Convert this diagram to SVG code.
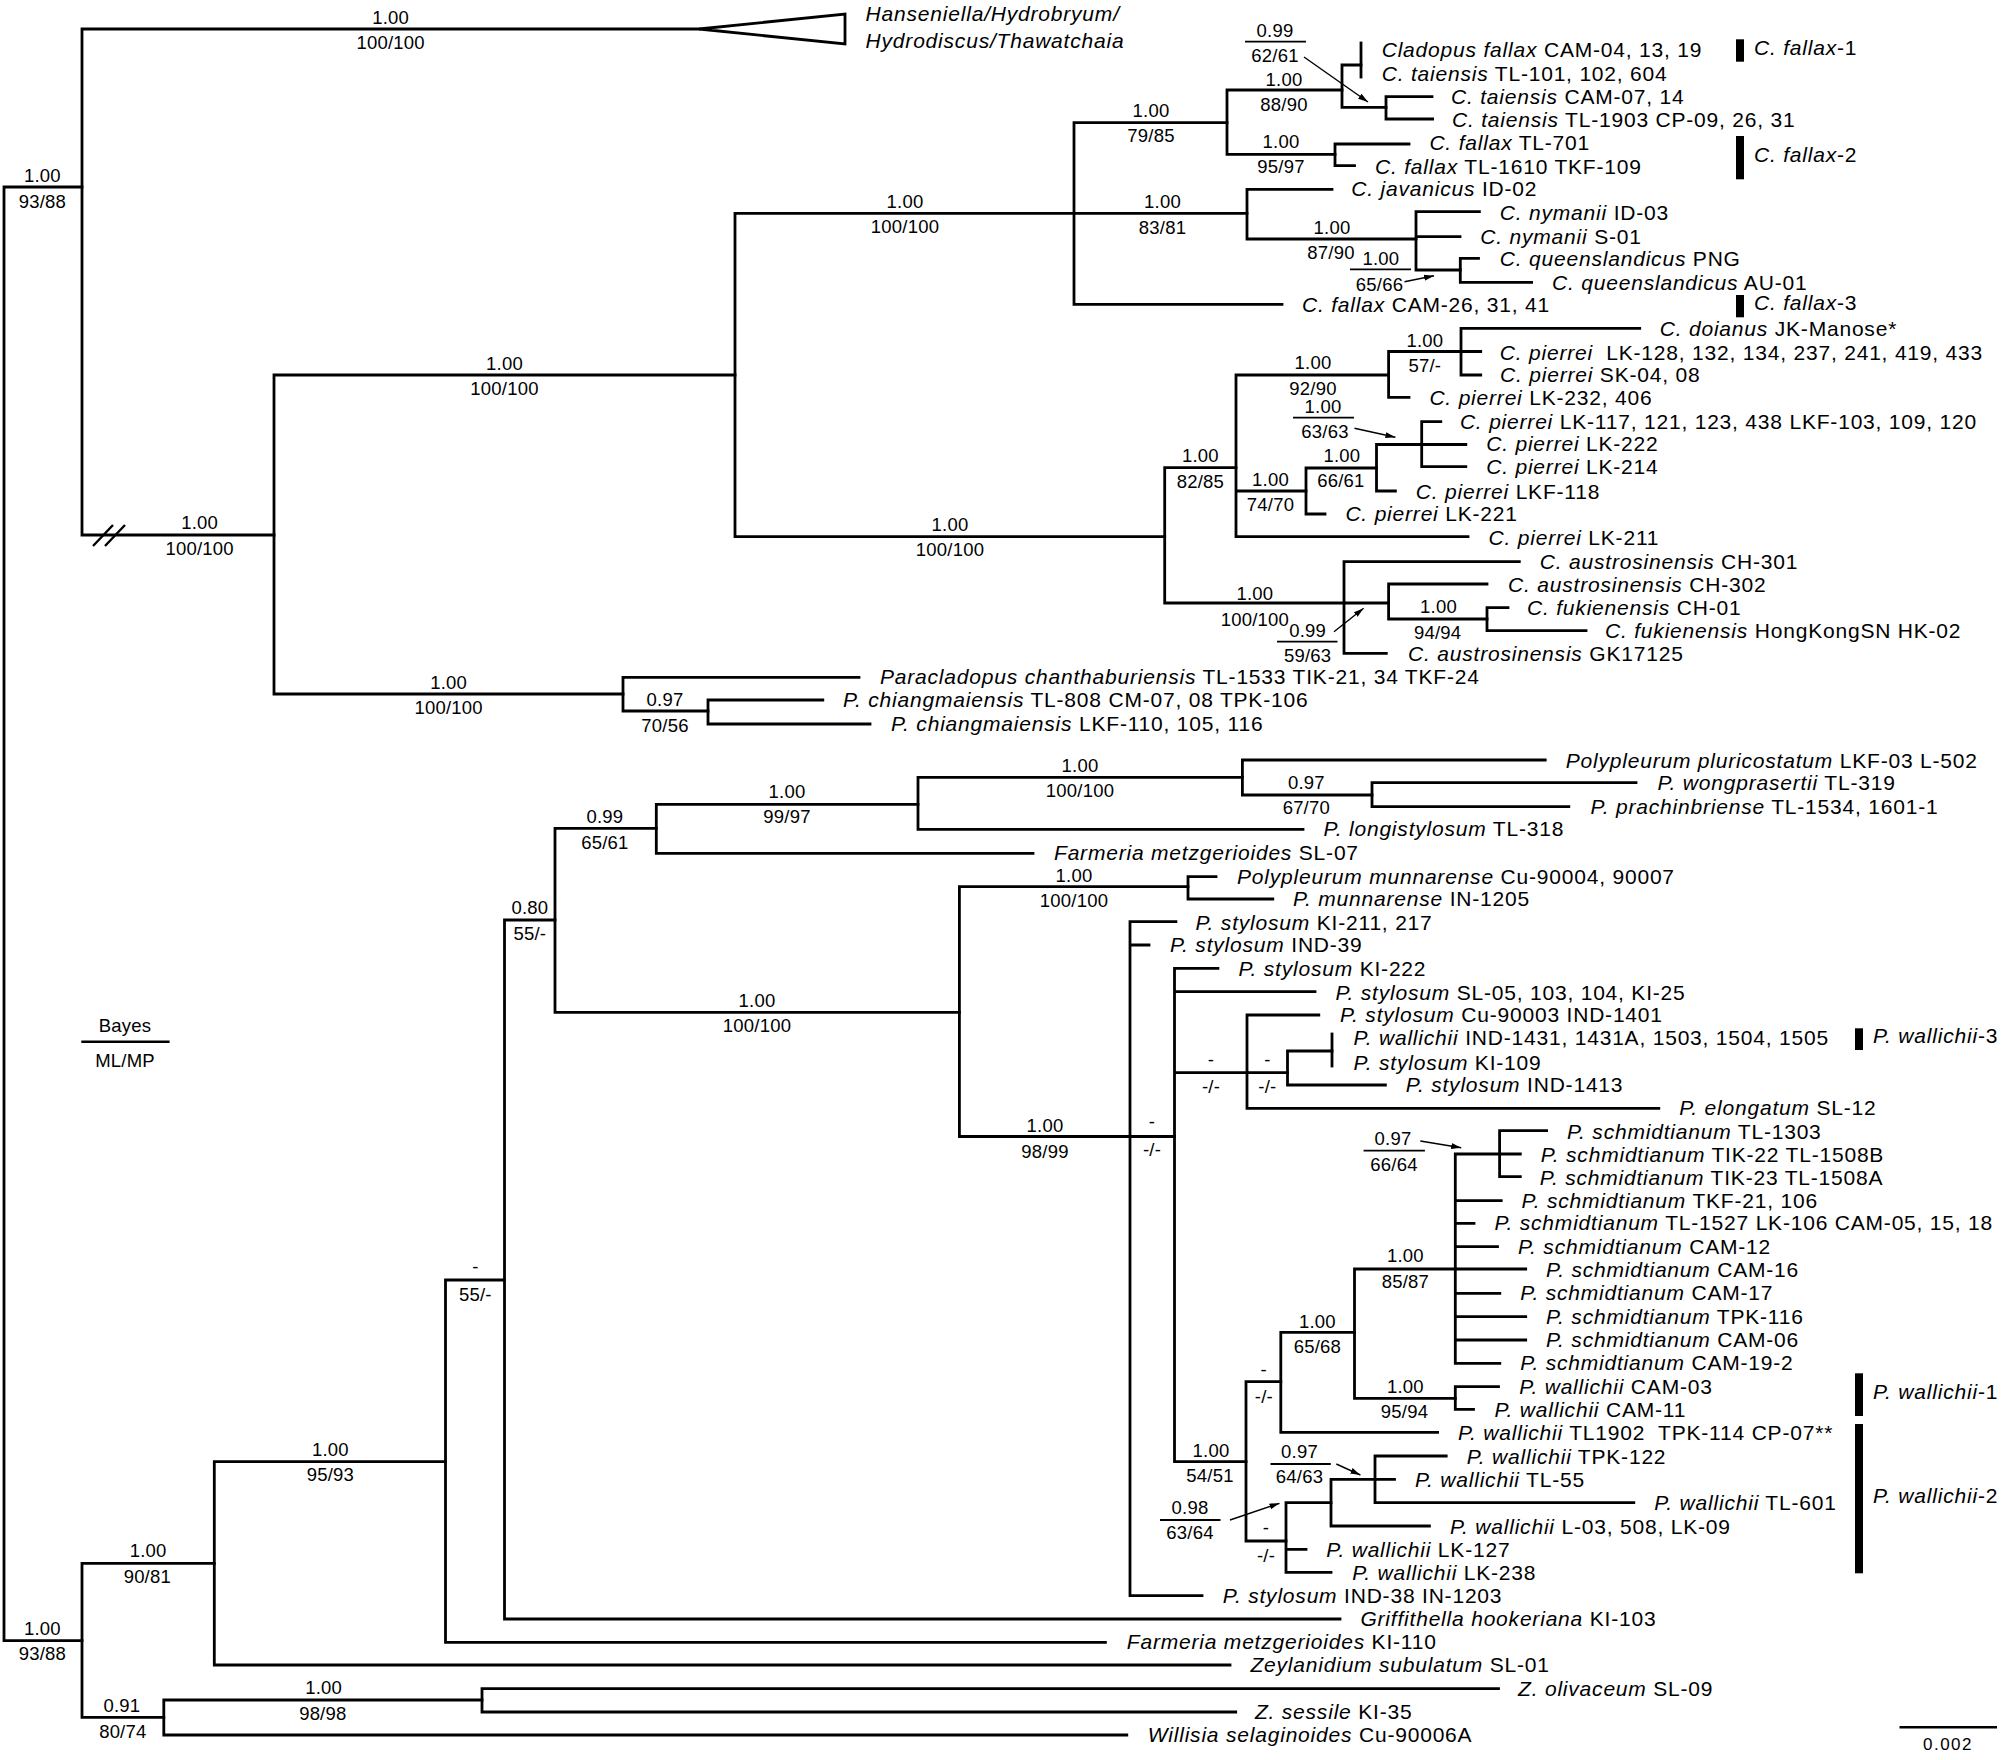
<svg xmlns="http://www.w3.org/2000/svg" width="2012" height="1760" viewBox="0 0 2012 1760">
<style>
text{font-family:"Liberation Sans",Arial,sans-serif;fill:#000}
.t{font-size:21px;letter-spacing:0.8px}
.i{font-style:italic}
.s{font-size:18.5px;text-anchor:middle;letter-spacing:0.2px}
.br{fill:none;stroke:#000;stroke-width:2.8;stroke-linecap:square}
.thin{fill:none;stroke:#000;stroke-width:1.8}
.ar{fill:none;stroke:#000;stroke-width:1.4;marker-end:url(#ah)}
.bar{fill:#000}
</style>
<defs>
<marker id="ah" viewBox="0 0 10 10" refX="10" refY="5" markerWidth="10" markerHeight="10" markerUnits="userSpaceOnUse" orient="auto"><path d="M0,2 L10,5 L0,8z" fill="#000"/></marker>
</defs>
<rect width="2012" height="1760" fill="#fff"/>
<g id="connectors">
<path class="br" d="M4,187V1640.7M4,187H82M4,1640.7H82"/>
<path class="br" d="M82,29V535M82,29H699M82,535H274"/>
<polygon points="699,29 845,14 845,44" fill="#fff" stroke="#000" stroke-width="2.8"/>
<path class="br" d="M274,375V694M274,375H735M274,694H623"/>
<path class="br" d="M735,213.3V536.7M735,213.3H1074M735,536.7H1164.7"/>
<path class="br" d="M1074,122.7V304.3M1074,122.7H1227M1074,213.3H1247M1074,304.3H1282"/>
<path class="br" d="M1227,90V154.3M1227,90H1342M1227,154.3H1335"/>
<path class="br" d="M1342,65V107.3M1342,65H1361M1342,107.3H1386"/>
<path class="br" d="M1361,43V77"/>
<path class="br" d="M1386,96.7V119M1386,96.7H1432M1386,119H1432.6"/>
<path class="br" d="M1335,144V165.7M1335,144H1409M1335,165.7H1354.5"/>
<path class="br" d="M1247,189.3V239M1247,189.3H1332M1247,239H1416"/>
<path class="br" d="M1416,211.7V270M1416,211.7H1479.4M1416,236.7H1460M1416,270H1460.3"/>
<path class="br" d="M1460.3,258.3V282.3M1460.3,258.3H1478.5M1460.3,282.3H1531.6"/>
<path class="br" d="M1164.7,467.7V603M1164.7,467.7H1236M1164.7,603H1344"/>
<path class="br" d="M1236,375V536.7M1236,375H1388.6M1236,491H1306M1236,536.7H1468"/>
<path class="br" d="M1388.6,351.5V397.3M1388.6,351.5H1461M1388.6,397.3H1409"/>
<path class="br" d="M1461,328.3V375M1461,328.3H1639.7M1461,351.5H1480.7M1461,375H1480.7"/>
<path class="br" d="M1306,468V514M1306,468H1376.5M1306,514H1325"/>
<path class="br" d="M1376.5,444.5V491M1376.5,444.5H1421.7M1376.5,491H1395.4"/>
<path class="br" d="M1421.7,421.7V466.7M1421.7,421.7H1440.8M1421.7,444.5H1465.8M1421.7,466.7H1465.8"/>
<path class="br" d="M1344,561.7V653.3M1344,561.7H1519.3M1344,603H1388.6M1344,653.3H1386.3"/>
<path class="br" d="M1388.6,584V619M1388.6,584H1487M1388.6,619H1487"/>
<path class="br" d="M1487,607.7V630.7M1487,607.7H1508M1487,630.7H1586"/>
<path class="br" d="M623,677.3V711M623,677.3H859M623,711H708"/>
<path class="br" d="M708,700V724M708,700H822.8M708,724H870"/>
<path class="br" d="M82,1563.3V1717.3M82,1563.3H214.3M82,1717.3H163.8"/>
<path class="br" d="M214.3,1461.7V1665M214.3,1461.7H445.5M214.3,1665H1230"/>
<path class="br" d="M163.8,1700V1735M163.8,1700H482M163.8,1735H1126.8"/>
<path class="br" d="M482,1688.7V1712M482,1688.7H1498.5M482,1712H1235.7"/>
<path class="br" d="M445.5,1280V1642.3M445.5,1280H504.5M445.5,1642.3H1105.4"/>
<path class="br" d="M504.5,920V1619M504.5,920H555M504.5,1619H1340"/>
<path class="br" d="M555,828.3V1012.3M555,828.3H656.3M555,1012.3H959.4"/>
<path class="br" d="M656.3,804.3V853.3M656.3,804.3H918M656.3,853.3H1033"/>
<path class="br" d="M918,777.3V829.3M918,777.3H1242.4M918,829.3H1303"/>
<path class="br" d="M1242.4,760V795M1242.4,760H1545.2M1242.4,795H1372"/>
<path class="br" d="M1372,782.7V806.7M1372,782.7H1636M1372,806.7H1568.8"/>
<path class="br" d="M959.4,886.7V1136.5M959.4,886.7H1188M959.4,1136.5H1130"/>
<path class="br" d="M1188,876.7V899M1188,876.7H1216M1188,899H1272.8"/>
<path class="br" d="M1130,921.7V1595.7M1130,921.7H1175.9M1130,945H1149M1130,1136.5H1174.5M1130,1595.7H1202"/>
<path class="br" d="M1174.5,968.3V1461.7M1174.5,968.3H1217.9M1174.5,991.7H1315M1174.5,1072.7H1247M1174.5,1461.7H1246"/>
<path class="br" d="M1247,1015V1108.3M1247,1015H1318.8M1247,1072.7H1287.5M1247,1108.3H1658.8"/>
<path class="br" d="M1287.5,1051V1085M1287.5,1051H1332M1287.5,1085H1385.4"/>
<path class="br" d="M1332,1034V1066"/>
<path class="br" d="M1246,1381.7V1541M1246,1381.7H1280.8M1246,1541H1286"/>
<path class="br" d="M1280.8,1332.3V1432.3M1280.8,1332.3H1354.5M1280.8,1432.3H1437.6"/>
<path class="br" d="M1354.5,1269V1398.3M1354.5,1269H1455.3M1354.5,1398.3H1455.3"/>
<path class="br" d="M1455.3,1154V1363.3M1455.3,1154H1499.6M1455.3,1200.7H1501.2M1455.3,1223.3H1474M1455.3,1246.7H1497.5M1455.3,1269H1525.7M1455.3,1293.3H1499.8M1455.3,1316.7H1525.7M1455.3,1340H1525.7M1455.3,1363.3H1499.8"/>
<path class="br" d="M1499.6,1130.7V1176.7M1499.6,1130.7H1546.6M1499.6,1154H1520.3M1499.6,1176.7H1520.3"/>
<path class="br" d="M1455.3,1386.7V1409.3M1455.3,1386.7H1498.5M1455.3,1409.3H1473.5"/>
<path class="br" d="M1286,1502.7V1572.3M1286,1502.7H1331M1286,1549.3H1306M1286,1572.3H1331"/>
<path class="br" d="M1331,1479.3V1526M1331,1479.3H1375M1331,1526H1429.4"/>
<path class="br" d="M1375,1456V1502.7M1375,1456H1446.2M1375,1479.3H1394.5M1375,1502.7H1633.8"/>
<path d="M93,546L113,525M105,546L125,525" fill="none" stroke="#000" stroke-width="2.4"/>
<path class="ar" d="M1304,57L1368,102"/>
<path class="ar" d="M1404.5,281.7L1434,275.7"/>
<path class="ar" d="M1354.5,428.3L1395.4,437.3"/>
<path class="ar" d="M1334,631.7L1363.6,608.3"/>
<path class="ar" d="M1420.3,1141L1461.2,1147.7"/>
<path class="ar" d="M1230,1520L1279.5,1503.3"/>
<path class="ar" d="M1336.3,1464L1360.4,1475"/>
</g>
<g id="supports">
<text class="s" x="42.4" y="182.2">1.00</text><text class="s" x="42.4" y="207.5">93/88</text>
<text class="s" x="390.6" y="24.2">1.00</text><text class="s" x="390.6" y="49.2">100/100</text>
<text class="s" x="199.6" y="529.2">1.00</text><text class="s" x="199.6" y="554.8">100/100</text>
<text class="s" x="504.5" y="369.8">1.00</text><text class="s" x="504.5" y="394.8">100/100</text>
<text class="s" x="905" y="208.2">1.00</text><text class="s" x="905" y="233.2">100/100</text>
<text class="s" x="950" y="530.5">1.00</text><text class="s" x="950" y="555.8">100/100</text>
<text class="s" x="1151" y="116.5">1.00</text><text class="s" x="1151" y="142.2">79/85</text>
<text class="s" x="1162.5" y="208.2">1.00</text><text class="s" x="1162.5" y="234.2">83/81</text>
<text class="s" x="1284" y="85.5">1.00</text><text class="s" x="1284" y="110.8">88/90</text>
<text class="s" x="1275" y="36.5">0.99</text><text class="s" x="1275" y="61.5">62/61</text>
<path class="thin" d="M1245,41.7H1306"/>
<text class="s" x="1281" y="148.2">1.00</text><text class="s" x="1281" y="173.2">95/97</text>
<text class="s" x="1332" y="233.5">1.00</text><text class="s" x="1331" y="258.8">87/90</text>
<text class="s" x="1380.8" y="264.8">1.00</text><text class="s" x="1379.5" y="290.5">65/66</text>
<path class="thin" d="M1350,269.3H1411"/>
<text class="s" x="1200.4" y="462.2">1.00</text><text class="s" x="1200.4" y="488.2">82/85</text>
<text class="s" x="1254.9" y="599.8">1.00</text><text class="s" x="1254.9" y="625.5">100/100</text>
<text class="s" x="1313" y="369.2">1.00</text><text class="s" x="1313" y="394.8">92/90</text>
<text class="s" x="1424.9" y="346.5">1.00</text><text class="s" x="1424.9" y="371.5">57/-</text>
<text class="s" x="1270.5" y="485.5">1.00</text><text class="s" x="1270.5" y="510.8">74/70</text>
<text class="s" x="1341.8" y="461.5">1.00</text><text class="s" x="1340.9" y="487.2">66/61</text>
<text class="s" x="1323" y="412.5">1.00</text><text class="s" x="1325" y="438.2">63/63</text>
<path class="thin" d="M1293,417.7H1354"/>
<text class="s" x="1307.6" y="636.5">0.99</text><text class="s" x="1307.6" y="661.5">59/63</text>
<path class="thin" d="M1277,641.7H1337.5"/>
<text class="s" x="1438.5" y="613.2">1.00</text><text class="s" x="1437.6" y="638.8">94/94</text>
<text class="s" x="448.7" y="688.8">1.00</text><text class="s" x="448.7" y="714.2">100/100</text>
<text class="s" x="665" y="705.8">0.97</text><text class="s" x="665" y="731.5">70/56</text>
<text class="s" x="42.4" y="1634.8">1.00</text><text class="s" x="42.4" y="1659.8">93/88</text>
<text class="s" x="148.2" y="1557.2">1.00</text><text class="s" x="147.3" y="1583.2">90/81</text>
<text class="s" x="121.9" y="1712.2">0.91</text><text class="s" x="122.8" y="1737.5">80/74</text>
<text class="s" x="330.4" y="1455.5">1.00</text><text class="s" x="330.4" y="1480.8">95/93</text>
<text class="s" x="323.7" y="1694.2">1.00</text><text class="s" x="322.8" y="1719.8">98/98</text>
<text class="s" x="475.4" y="1273.3">-</text><text class="s" x="475.4" y="1300.8">55/-</text>
<text class="s" x="529.9" y="914.2">0.80</text><text class="s" x="529.9" y="939.8">55/-</text>
<text class="s" x="604.9" y="823.2">0.99</text><text class="s" x="604.9" y="848.8">65/61</text>
<text class="s" x="757" y="1006.5">1.00</text><text class="s" x="757" y="1032.2">100/100</text>
<text class="s" x="787" y="798.2">1.00</text><text class="s" x="787" y="823.2">99/97</text>
<text class="s" x="1080" y="771.5">1.00</text><text class="s" x="1080" y="796.5">100/100</text>
<text class="s" x="1306.3" y="788.8">0.97</text><text class="s" x="1306.3" y="814.2">67/70</text>
<text class="s" x="1074" y="881.5">1.00</text><text class="s" x="1074" y="906.5">100/100</text>
<text class="s" x="1045" y="1132.2">1.00</text><text class="s" x="1045" y="1157.5">98/99</text>
<text class="s" x="1152" y="1128.3">-</text><text class="s" x="1152" y="1155.8">-/-</text>
<text class="s" x="1211" y="1066">-</text><text class="s" x="1211" y="1093.2">-/-</text>
<text class="s" x="1267.4" y="1066">-</text><text class="s" x="1267.4" y="1093.2">-/-</text>
<text class="s" x="1211" y="1456.5">1.00</text><text class="s" x="1210" y="1482.2">54/51</text>
<text class="s" x="1263.8" y="1376">-</text><text class="s" x="1263.8" y="1403.2">-/-</text>
<text class="s" x="1266" y="1534.3">-</text><text class="s" x="1266" y="1561.5">-/-</text>
<text class="s" x="1317.4" y="1327.5">1.00</text><text class="s" x="1317.4" y="1352.5">65/68</text>
<text class="s" x="1405.4" y="1262.2">1.00</text><text class="s" x="1405.4" y="1287.5">85/87</text>
<text class="s" x="1393" y="1144.8">0.97</text><text class="s" x="1394" y="1170.8">66/64</text>
<path class="thin" d="M1363.6,1150.7H1424.9"/>
<text class="s" x="1405.4" y="1393.2">1.00</text><text class="s" x="1404.5" y="1418.2">95/94</text>
<text class="s" x="1190" y="1514.2">0.98</text><text class="s" x="1190" y="1538.8">63/64</text>
<path class="thin" d="M1160,1520H1220.5"/>
<text class="s" x="1299.5" y="1457.5">0.97</text><text class="s" x="1299.5" y="1483.2">64/63</text>
<path class="thin" d="M1270.5,1464H1330.8"/>
</g>
<g id="tip-collapsed"><text class="t i" x="865.6" y="21">Hanseniella/Hydrobryum/</text><text class="t i" x="865.6" y="47.7">Hydrodiscus/Thawatchaia</text></g>
<g id="tip1"><text class="t" x="1381.7" y="57"><tspan class="i">Cladopus fallax</tspan> CAM-04, 13, 19</text></g>
<g id="tip2"><text class="t" x="1381.7" y="81"><tspan class="i">C. taiensis</tspan> TL-101, 102, 604</text></g>
<g id="tip3"><text class="t" x="1451" y="103.7"><tspan class="i">C. taiensis</tspan> CAM-07, 14</text></g>
<g id="tip4"><text class="t" x="1452" y="127"><tspan class="i">C. taiensis</tspan> TL-1903 CP-09, 26, 31</text></g>
<g id="tip5"><text class="t" x="1429.4" y="150.3"><tspan class="i">C. fallax</tspan> TL-701</text></g>
<g id="tip6"><text class="t" x="1375" y="173.7"><tspan class="i">C. fallax</tspan> TL-1610 TKF-109</text></g>
<g id="tip7"><text class="t" x="1351.3" y="196.3"><tspan class="i">C. javanicus</tspan> ID-02</text></g>
<g id="tip8"><text class="t" x="1499.8" y="220.3"><tspan class="i">C. nymanii</tspan> ID-03</text></g>
<g id="tip9"><text class="t" x="1480.3" y="243.7"><tspan class="i">C. nymanii</tspan> S-01</text></g>
<g id="tip10"><text class="t" x="1499.8" y="266.3"><tspan class="i">C. queenslandicus</tspan> PNG</text></g>
<g id="tip11"><text class="t" x="1552" y="289.7"><tspan class="i">C. queenslandicus</tspan> AU-01</text></g>
<g id="tip12"><text class="t" x="1302" y="312"><tspan class="i">C. fallax</tspan> CAM-26, 31, 41</text></g>
<g id="tip13"><text class="t" x="1659.7" y="336.3"><tspan class="i">C. doianus</tspan> JK-Manose*</text></g>
<g id="tip14"><text class="t" x="1499.8" y="359.7" xml:space="preserve"><tspan class="i">C. pierrei</tspan>  LK-128, 132, 134, 237, 241, 419, 433</text></g>
<g id="tip15"><text class="t" x="1500" y="382"><tspan class="i">C. pierrei</tspan> SK-04, 08</text></g>
<g id="tip16"><text class="t" x="1429.4" y="405.3"><tspan class="i">C. pierrei</tspan> LK-232, 406</text></g>
<g id="tip17"><text class="t" x="1459.9" y="428.7"><tspan class="i">C. pierrei</tspan> LK-117, 121, 123, 438 LKF-103, 109, 120</text></g>
<g id="tip18"><text class="t" x="1486.2" y="451.3"><tspan class="i">C. pierrei</tspan> LK-222</text></g>
<g id="tip19"><text class="t" x="1486.2" y="473.7"><tspan class="i">C. pierrei</tspan> LK-214</text></g>
<g id="tip20"><text class="t" x="1415.8" y="498.7"><tspan class="i">C. pierrei</tspan> LKF-118</text></g>
<g id="tip21"><text class="t" x="1345.4" y="521"><tspan class="i">C. pierrei</tspan> LK-221</text></g>
<g id="tip22"><text class="t" x="1488.5" y="545.3"><tspan class="i">C. pierrei</tspan> LK-211</text></g>
<g id="tip23"><text class="t" x="1539.8" y="568.7"><tspan class="i">C. austrosinensis</tspan> CH-301</text></g>
<g id="tip24"><text class="t" x="1508" y="592"><tspan class="i">C. austrosinensis</tspan> CH-302</text></g>
<g id="tip25"><text class="t" x="1527" y="614.7"><tspan class="i">C. fukienensis</tspan> CH-01</text></g>
<g id="tip26"><text class="t" x="1605" y="637.7"><tspan class="i">C. fukienensis</tspan> HongKongSN HK-02</text></g>
<g id="tip27"><text class="t" x="1408" y="661"><tspan class="i">C. austrosinensis</tspan> GK17125</text></g>
<g id="tip28"><text class="t" x="880" y="684.3"><tspan class="i">Paracladopus chanthaburiensis</tspan> TL-1533 TIK-21, 34 TKF-24</text></g>
<g id="tip29"><text class="t" x="842.9" y="707"><tspan class="i">P. chiangmaiensis</tspan> TL-808 CM-07, 08 TPK-106</text></g>
<g id="tip30"><text class="t" x="891" y="731"><tspan class="i">P. chiangmaiensis</tspan> LKF-110, 105, 116</text></g>
<g id="tip31"><text class="t" x="1565.7" y="767.7"><tspan class="i">Polypleurum pluricostatum</tspan> LKF-03 L-502</text></g>
<g id="tip32"><text class="t" x="1657.4" y="790.3"><tspan class="i">P. wongprasertii</tspan> TL-319</text></g>
<g id="tip33"><text class="t" x="1590.6" y="813.7"><tspan class="i">P. prachinbriense</tspan> TL-1534, 1601-1</text></g>
<g id="tip34"><text class="t" x="1323.6" y="836.3"><tspan class="i">P. longistylosum</tspan> TL-318</text></g>
<g id="tip35"><text class="t" x="1054" y="860.3"><tspan class="i">Farmeria metzgerioides</tspan> SL-07</text></g>
<g id="tip36"><text class="t" x="1237" y="883.7"><tspan class="i">Polypleurum munnarense</tspan> Cu-90004, 90007</text></g>
<g id="tip37"><text class="t" x="1292.9" y="906"><tspan class="i">P. munnarense</tspan> IN-1205</text></g>
<g id="tip38"><text class="t" x="1195.5" y="929.7"><tspan class="i">P. stylosum</tspan> KI-211, 217</text></g>
<g id="tip39"><text class="t" x="1170" y="952"><tspan class="i">P. stylosum</tspan> IND-39</text></g>
<g id="tip40"><text class="t" x="1238.4" y="976.3"><tspan class="i">P. stylosum</tspan> KI-222</text></g>
<g id="tip41"><text class="t" x="1335.4" y="999.7"><tspan class="i">P. stylosum</tspan> SL-05, 103, 104, KI-25</text></g>
<g id="tip42"><text class="t" x="1340" y="1022"><tspan class="i">P. stylosum</tspan> Cu-90003 IND-1401</text></g>
<g id="tip43"><text class="t" x="1353.6" y="1045.3"><tspan class="i">P. wallichii</tspan> IND-1431, 1431A, 1503, 1504, 1505</text></g>
<g id="tip44"><text class="t" x="1353.6" y="1069.7"><tspan class="i">P. stylosum</tspan> KI-109</text></g>
<g id="tip45"><text class="t" x="1405.8" y="1092"><tspan class="i">P. stylosum</tspan> IND-1413</text></g>
<g id="tip46"><text class="t" x="1679.2" y="1115.3"><tspan class="i">P. elongatum</tspan> SL-12</text></g>
<g id="tip47"><text class="t" x="1567" y="1138.7"><tspan class="i">P. schmidtianum</tspan> TL-1303</text></g>
<g id="tip48"><text class="t" x="1540.7" y="1162"><tspan class="i">P. schmidtianum</tspan> TIK-22 TL-1508B</text></g>
<g id="tip49"><text class="t" x="1539.8" y="1184.7"><tspan class="i">P. schmidtianum</tspan> TIK-23 TL-1508A</text></g>
<g id="tip50"><text class="t" x="1521.6" y="1207.7"><tspan class="i">P. schmidtianum</tspan> TKF-21, 106</text></g>
<g id="tip51"><text class="t" x="1494.4" y="1230.3"><tspan class="i">P. schmidtianum</tspan> TL-1527 LK-106 CAM-05, 15, 18</text></g>
<g id="tip52"><text class="t" x="1518" y="1253.7"><tspan class="i">P. schmidtianum</tspan> CAM-12</text></g>
<g id="tip53"><text class="t" x="1546.1" y="1277"><tspan class="i">P. schmidtianum</tspan> CAM-16</text></g>
<g id="tip54"><text class="t" x="1520.3" y="1300.3"><tspan class="i">P. schmidtianum</tspan> CAM-17</text></g>
<g id="tip55"><text class="t" x="1546" y="1323.7"><tspan class="i">P. schmidtianum</tspan> TPK-116</text></g>
<g id="tip56"><text class="t" x="1546" y="1347"><tspan class="i">P. schmidtianum</tspan> CAM-06</text></g>
<g id="tip57"><text class="t" x="1520.3" y="1370.3"><tspan class="i">P. schmidtianum</tspan> CAM-19-2</text></g>
<g id="tip58"><text class="t" x="1519.3" y="1394.3"><tspan class="i">P. wallichii</tspan> CAM-03</text></g>
<g id="tip59"><text class="t" x="1494.4" y="1417"><tspan class="i">P. wallichii</tspan> CAM-11</text></g>
<g id="tip60"><text class="t" x="1458" y="1440.3" xml:space="preserve"><tspan class="i">P. wallichii</tspan> TL1902  TPK-114 CP-07**</text></g>
<g id="tip61"><text class="t" x="1466.7" y="1463.7"><tspan class="i">P. wallichii</tspan> TPK-122</text></g>
<g id="tip62"><text class="t" x="1414.9" y="1487"><tspan class="i">P. wallichii</tspan> TL-55</text></g>
<g id="tip63"><text class="t" x="1654.2" y="1510.3"><tspan class="i">P. wallichii</tspan> TL-601</text></g>
<g id="tip64"><text class="t" x="1449.9" y="1533.7"><tspan class="i">P. wallichii</tspan> L-03, 508, LK-09</text></g>
<g id="tip65"><text class="t" x="1326.3" y="1557"><tspan class="i">P. wallichii</tspan> LK-127</text></g>
<g id="tip66"><text class="t" x="1352.2" y="1580.3"><tspan class="i">P. wallichii</tspan> LK-238</text></g>
<g id="tip67"><text class="t" x="1222.8" y="1602.7"><tspan class="i">P. stylosum</tspan> IND-38 IN-1203</text></g>
<g id="tip68"><text class="t" x="1360.4" y="1626"><tspan class="i">Griffithella hookeriana</tspan> KI-103</text></g>
<g id="tip69"><text class="t" x="1126.8" y="1649.3"><tspan class="i">Farmeria metzgerioides</tspan> KI-110</text></g>
<g id="tip70"><text class="t" x="1250.4" y="1672"><tspan class="i">Zeylanidium subulatum</tspan> SL-01</text></g>
<g id="tip71"><text class="t" x="1518" y="1696.3"><tspan class="i">Z. olivaceum</tspan> SL-09</text></g>
<g id="tip72"><text class="t" x="1254.9" y="1719"><tspan class="i">Z. sessile</tspan> KI-35</text></g>
<g id="tip73"><text class="t" x="1147.8" y="1742"><tspan class="i">Willisia selaginoides</tspan> Cu-90006A</text></g>
<g id="clades">
<rect class="bar" x="1736" y="39.3" width="8" height="22.4"/><text class="t" x="1754" y="54.7"><tspan class="i">C. fallax</tspan>-1</text>
<rect class="bar" x="1736" y="136" width="8" height="43.3"/><text class="t" x="1754" y="162"><tspan class="i">C. fallax</tspan>-2</text>
<rect class="bar" x="1736" y="295" width="8" height="22.3"/><text class="t" x="1754" y="309.7"><tspan class="i">C. fallax</tspan>-3</text>
<rect class="bar" x="1855" y="1028.3" width="8" height="21.7"/><text class="t" x="1873" y="1043"><tspan class="i">P. wallichii</tspan>-3</text>
<rect class="bar" x="1855" y="1373.3" width="8" height="42.7"/><text class="t" x="1873" y="1398.7"><tspan class="i">P. wallichii</tspan>-1</text>
<rect class="bar" x="1855" y="1424" width="8" height="149.3"/><text class="t" x="1873" y="1503"><tspan class="i">P. wallichii</tspan>-2</text>
</g>
<g id="legend">
<text class="s" x="125" y="1032">Bayes</text>
<path d="M81.3,1041.7H169.6" stroke="#000" stroke-width="2.4"/>
<text class="s" x="125" y="1066.5">ML/MP</text>
</g>
<g id="scalebar">
<path d="M1899.5,1727.3H1997" stroke="#000" stroke-width="2.6"/>
<text x="1948" y="1750" style="font-size:17px;text-anchor:middle;letter-spacing:1.5px">0.002</text>
</g>
</svg>
